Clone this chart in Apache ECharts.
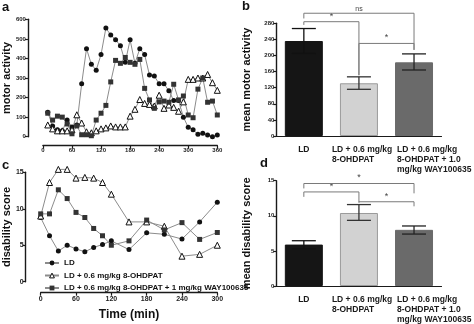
<!DOCTYPE html>
<html><head><meta charset="utf-8">
<script src="https://cdn.jsdelivr.net/npm/echarts@6/dist/echarts.min.js"></script>
<style>html,body{margin:0;padding:0;background:#fff}#c{width:474px;height:324px}</style>
</head><body><div id="c"></div>
<script>
// ---- Panel a: motor activity time course ----
const timesA = [10,20,30,40,50,60,70,80,90,100,110,120,130,140,150,160,170,180,190,200,210,220,230,240,250,260,270,280,290,300,310,320,330,340,350,360];
const ldA  = [125,55,35,30,85,50,60,270,450,370,340,420,555,520,495,465,380,495,375,450,420,315,310,270,270,235,185,185,100,48,35,12,17,9,0,9];
const ohA  = [60,40,30,30,30,35,112,70,25,20,30,40,45,55,50,50,50,105,140,190,170,165,157,212,145,162,150,130,178,293,293,300,300,318,276,237];
const wayA = [120,85,105,100,65,15,55,10,10,5,85,120,160,280,390,375,405,380,370,395,247,188,145,178,182,176,268,188,208,111,97,243,300,176,182,111];

// ---- Panel c: disability score time course ----
const timesC = [0,15,30,45,60,75,90,105,120,150,180,210,240,270,300];
const ldC  = [8.8,6.3,4.2,5.0,4.5,4.1,4.7,5.1,5.6,4.4,6.7,6.5,5.85,8.2,10.9];
const ohC  = [9.0,13.6,15.4,15.4,14.2,14.3,14.2,13.6,12.0,8.2,8.2,7.6,3.5,3.75,5.0];
const wayC = [9.3,9.3,12.6,11.4,9.5,8.8,7.3,6.3,5.0,5.6,8.45,7.1,8.1,5.8,6.75];

// ---- Panels b and d: means ----
const groups = ['LD', 'LD + 0.6 mg/kg\n8-OHDPAT', 'LD + 0.6 mg/kg\n8-OHDPAT + 1.0\nmg/kg WAY100635'];
const motorMean = [236, 131, 183];
const motorLow  = [205, 116, 164];
const motorHigh = [267, 147, 204];
const disMean = [5.9, 10.4, 8.0];
const disLow  = [5.3, 9.35, 7.4];
const disHigh = [6.45, 11.6, 8.55];

// brackets: [fromGroup, toGroup, topValue, leftLegEnd, rightLegEnd]
const bracketsB = [[0,1,284,276,151],[1,2,230,151,214],[0,2,305,292,214]];
const bracketLabelsB = ['*','*','ns'];
const bracketsD = [[0,1,13.4,12.7,11.9],[1,2,12.0,11.9,11.35],[0,2,14.6,13.9,13.2]];
const bracketLabelsD = ['*','*','*'];

const seriesNames = ['LD', 'LD + 0.6 mg/kg 8-OHDPAT', 'LD + 0.6 mg/kg 8-OHDPAT + 1 mg/kg WAY100635'];
const barColors = ['#151515', '#d2d2d2', '#6a6a6a'];
const errColors = ['#111', '#333', '#222'];

const FONT = 'Liberation Sans';
const axisCol = '#1a1a1a';

function pair(xs, ys){ return xs.map((x,i)=>[x, ys[i]]); }

function valueAxis(grid, min, max, interval, extra){
  return Object.assign({
    type:'value', gridIndex:grid, min, max, interval,
    axisLine:{show:true, onZero:false, lineStyle:{color:axisCol, width:1.4}},
    axisTick:{show:true, length:3, lineStyle:{color:axisCol, width:1.2}},
    splitLine:{show:false},
    axisLabel:{fontSize:6, fontWeight:'bold', color:'#222', fontFamily:FONT, margin:2}
  }, extra||{});
}

const labelOffsets = [0, 54, 34];
function catAxis(grid){
  const rich = {};
  labelOffsets.forEach((w,i)=>{
    rich['g'+i] = {fontSize:8.5, fontWeight:'bold', fontFamily:FONT, color:'#1a1a1a', lineHeight:9.8, align: i===0?'center':'left'};
    if (w) rich['g'+i].width = w;
  });
  return {
    type:'category', gridIndex:grid, data:groups,
    axisLine:{show:true, lineStyle:{color:axisCol, width:1}},
    axisTick:{show:false},
    axisLabel:{interval:0, margin:9, verticalAlign:'top',
      formatter:(v, idx)=> v.split('\n').map(l=>'{g'+idx+'|'+l+'}').join('\n'),
      rich}
  };
}

const symbolStyles = [
  {symbol:'circle', symbolSize:5, itemStyle:{color:'#111'}},
  {symbol:'triangle', symbolSize:6, itemStyle:{color:'#fff', borderColor:'#111', borderWidth:1}},
  {symbol:'rect', symbolSize:5, itemStyle:{color:'#333'}}
];
function clone(o){ return JSON.parse(JSON.stringify(o)); }

function lineSeries(name, xi, yi, data, kind){
  const s = {type:'line', name, xAxisIndex:xi, yAxisIndex:yi, data, clip:false,
    lineStyle:{color:'#8c8c8c', width:1}, animation:false, emphasis:{disabled:true}};
  Object.assign(s, clone(symbolStyles[kind]));
  if (kind===1) s.z = 3;
  return s;
}

function errSeries(xi, yi, lows, highs){
  return {type:'custom', xAxisIndex:xi, yAxisIndex:yi, z:5, animation:false,
    data: lows.map((l,i)=>[i,l,highs[i]]),
    encode:{x:0, y:[1,2]},
    renderItem:(params, api)=>{
      const x = api.value(0);
      const a = api.coord([x, api.value(1)]), b = api.coord([x, api.value(2)]);
      const hw = 12;
      const style = {stroke: errColors[params.dataIndex], lineWidth:1.3, fill:null};
      return {type:'group', children:[
        {type:'line', shape:{x1:a[0],y1:a[1],x2:b[0],y2:b[1]}, style},
        {type:'line', shape:{x1:b[0]-hw,y1:b[1],x2:b[0]+hw,y2:b[1]}, style},
        {type:'line', shape:{x1:a[0]-hw,y1:a[1],x2:a[0]+hw,y2:a[1]}, style}
      ]};
    }};
}

function bracketSeries(xi, yi, brackets, labels){
  return {type:'custom', xAxisIndex:xi, yAxisIndex:yi, z:6, animation:false, clip:false,
    data: brackets,
    encode:{x:[0,1], y:[2,3,4]},
    renderItem:(params, api)=>{
      const i=api.value(0), j=api.value(1), top=api.value(2), l=api.value(3), r=api.value(4);
      const p1=api.coord([i,l]), p2=api.coord([i,top]), p3=api.coord([j,top]), p4=api.coord([j,r]);
      return {type:'group', children:[
        {type:'polyline', shape:{points:[p1,p2,p3,p4]}, style:{stroke:'#7a7a7a', lineWidth:1, fill:null}},
        {type:'text', x:(p2[0]+p3[0])/2, y:p2[1]-1, style:{text:labels[params.dataIndex], fontSize:labels[params.dataIndex]==='ns'?7:9, fontFamily:FONT, fill:'#444', align:'center', verticalAlign:'bottom'}}
      ]};
    }};
}

const chart = echarts.init(document.getElementById('c'), null, {renderer:'canvas'});
const titleStyle = {fontSize:11, fontWeight:'bold', fontFamily:FONT, color:'#111'};
chart.setOption({
  backgroundColor:'#fff',
  animation:false,
  grid:[
    {left:39.3, top:19.3, width:178, height:117.4},
    {left:276.3, top:23.3, width:167.4, height:112.7},
    {left:39.3, top:172.3, width:178, height:109.4},
    {left:276.3, top:180.7, width:167.4, height:107}
  ],
  xAxis:[
    valueAxis(0, 0, 360, 60, {offset:9}),
    catAxis(1),
    valueAxis(2, 0, 300, 60, {offset:11, axisLabel:{fontSize:7, fontWeight:'bold', color:'#222', fontFamily:FONT, margin:3},
      name:'Time (min)', nameLocation:'middle', nameGap:16, nameTextStyle:{fontSize:12, fontWeight:'bold', fontFamily:FONT, color:'#111'}}),
    catAxis(3)
  ],
  yAxis:[
    valueAxis(0, 0, 600, 100, {offset:15, name:'motor activity', nameLocation:'middle', nameRotate:90, nameGap:12, nameTextStyle:titleStyle}),
    valueAxis(1, 0, 280, 40, {name:'mean motor activity', nameLocation:'middle', nameRotate:90, nameGap:24, nameTextStyle:titleStyle}),
    valueAxis(2, 0, 15, 5, {offset:15, axisLabel:{fontSize:7, fontWeight:'bold', color:'#222', fontFamily:FONT, margin:2},
      name:'disability score', nameLocation:'middle', nameRotate:90, nameGap:12, nameTextStyle:titleStyle}),
    valueAxis(3, 0, 15, 5, {name:'mean disability score', nameLocation:'middle', nameRotate:90, nameGap:24, nameTextStyle:titleStyle})
  ],
  legend:{left:39, top:254, orient:'vertical', itemWidth:14, itemHeight:6, itemGap:4.5, selectedMode:false,
    textStyle:{fontSize:8, fontWeight:'bold', fontFamily:FONT, color:'#111'},
    data: seriesNames.map((n,i)=>({name:n, itemStyle:clone(symbolStyles[i].itemStyle)}))},
  graphic:[
    {type:'text', left:2, top:1, style:{text:'a', fontSize:13, fontWeight:'bold', fontFamily:FONT, fill:'#111'}},
    {type:'text', left:242, top:0, style:{text:'b', fontSize:13, fontWeight:'bold', fontFamily:FONT, fill:'#111'}},
    {type:'text', left:2, top:159, style:{text:'c', fontSize:13, fontWeight:'bold', fontFamily:FONT, fill:'#111'}},
    {type:'text', left:260, top:157, style:{text:'d', fontSize:13, fontWeight:'bold', fontFamily:FONT, fill:'#111'}}
  ],
  series:[
    lineSeries(seriesNames[0], 0, 0, pair(timesA, ldA), 0),
    lineSeries(seriesNames[1], 0, 0, pair(timesA, ohA), 1),
    lineSeries(seriesNames[2], 0, 0, pair(timesA, wayA), 2),
    lineSeries(seriesNames[0], 2, 2, pair(timesC, ldC), 0),
    lineSeries(seriesNames[1], 2, 2, pair(timesC, ohC), 1),
    lineSeries(seriesNames[2], 2, 2, pair(timesC, wayC), 2),
    {type:'bar', xAxisIndex:1, yAxisIndex:1, barWidth:38, animation:false,
      data: motorMean.map((v,i)=>({value:v, itemStyle:{color:barColors[i], borderColor:i===1?'#9a9a9a':barColors[i], borderWidth:1}}))},
    errSeries(1, 1, motorLow, motorHigh),
    bracketSeries(1, 1, bracketsB, bracketLabelsB),
    {type:'bar', xAxisIndex:3, yAxisIndex:3, barWidth:38, animation:false,
      data: disMean.map((v,i)=>({value:v, itemStyle:{color:barColors[i], borderColor:i===1?'#9a9a9a':barColors[i], borderWidth:1}}))},
    errSeries(3, 3, disLow, disHigh),
    bracketSeries(3, 3, bracketsD, bracketLabelsD)
  ]
});
</script>
</body></html>
